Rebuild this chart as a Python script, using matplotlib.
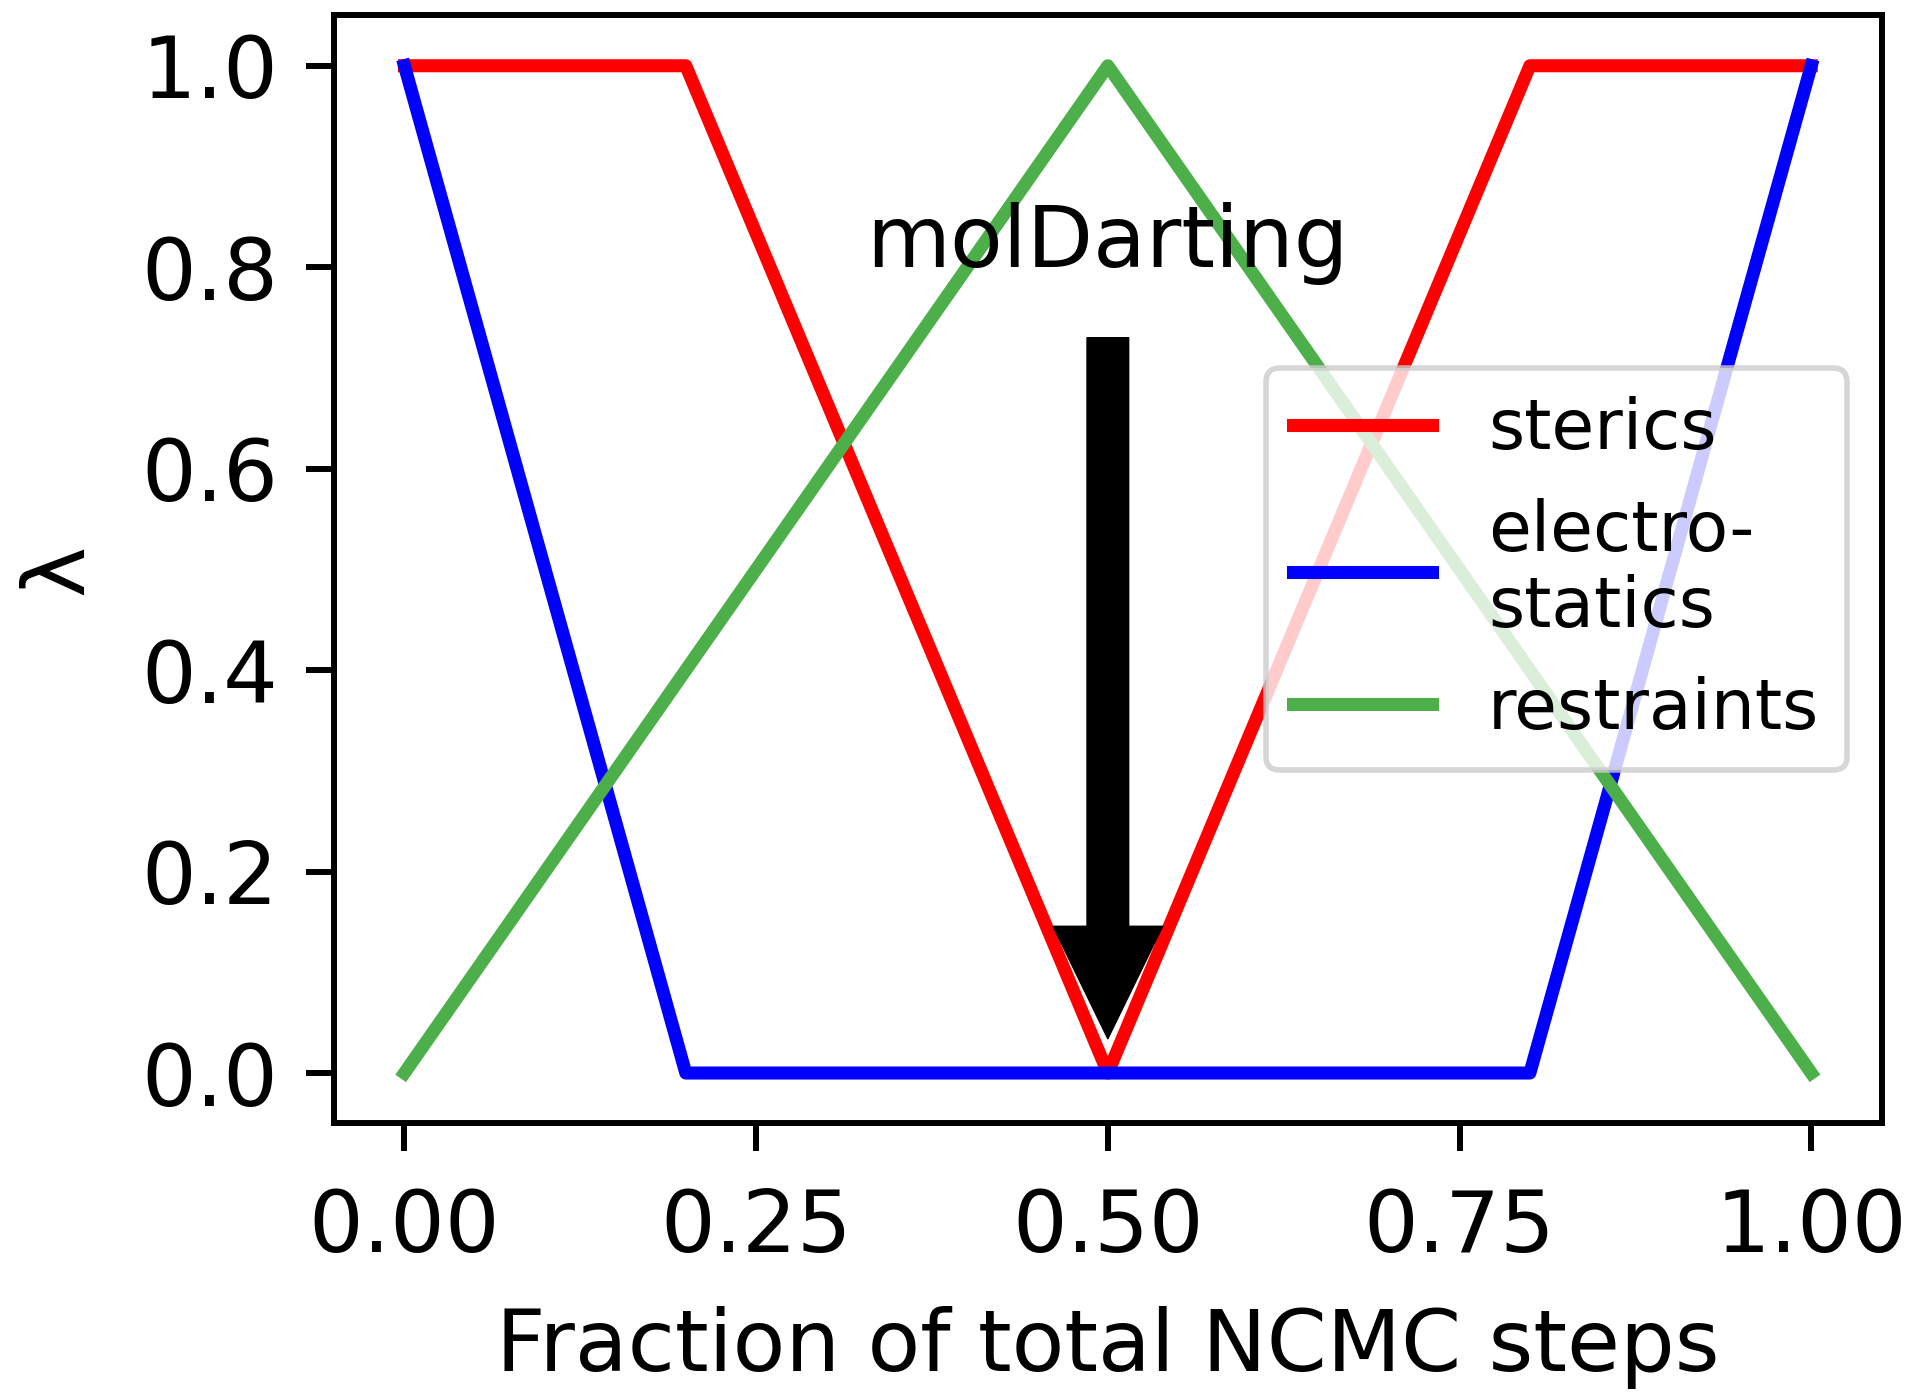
import matplotlib
matplotlib.use("Agg")
import matplotlib.pyplot as plt

# Data
sterics_x = [0.0, 0.2, 0.5, 0.8, 1.0]
sterics_y = [1.0, 1.0, 0.0, 1.0, 1.0]
electro_x = [0.0, 0.2, 0.8, 1.0]
electro_y = [1.0, 0.0, 0.0, 1.0]
restr_x = [0.0, 0.5, 1.0]
restr_y = [0.0, 1.0, 0.0]
labels = ["sterics", "electro-\nstatics", "restraints"]
colors = ["red", "blue", "#4daf4a"]
xticks = [0.0, 0.25, 0.5, 0.75, 1.0]
xticklabels = ["0.00", "0.25", "0.50", "0.75", "1.00"]
yticks = [0.0, 0.2, 0.4, 0.6, 0.8, 1.0]
yticklabels = ["0.0", "0.2", "0.4", "0.6", "0.8", "1.0"]
annot_text = "molDarting"
annot_text_pos = (0.5, 0.8)
arrow_start = (0.5, 0.73)
arrow_end = (0.5, 0.034)

FS = 62
LW = 9.4

fig = plt.figure(figsize=(19.2, 13.99), dpi=100)
ax = fig.add_axes([0.174, 0.197, 0.980 - 0.174, 0.989 - 0.197])

for xs, ys, lab, c in zip([sterics_x, electro_x, restr_x],
                          [sterics_y, electro_y, restr_y], labels, colors):
    ax.plot(xs, ys, color=c, lw=LW, label=lab)

ax.set_xlim(-0.05, 1.05)
ax.set_ylim(-0.05, 1.05)
ax.set_xticks(xticks)
ax.set_xticklabels(xticklabels)
ax.set_yticks(yticks)
ax.set_yticklabels(yticklabels)
ax.tick_params(labelsize=FS, length=20, width=4.3)
ax.tick_params(axis="x", pad=26)
ax.tick_params(axis="y", pad=20)
for s in ax.spines.values():
    s.set_linewidth(4.3)

ax.set_xlabel("Fraction of total NCMC steps", fontsize=FS, labelpad=26)
ax.set_ylabel("λ", fontsize=FS)
ax.yaxis.set_label_coords(-0.151, 0.5)

ax.text(annot_text_pos[0], annot_text_pos[1], annot_text, fontsize=FS,
        ha="center", va="baseline")
ax.annotate("", xy=arrow_end, xytext=arrow_start,
            arrowprops=dict(facecolor="black", edgecolor="black",
                            width=30, headwidth=79, headlength=81, shrink=0))

leg = ax.legend(loc="center right", fontsize=50, labelspacing=0.5,
                handlelength=2.0, borderaxespad=0.5)
leg.get_frame().set_linewidth(4)
for t in leg.get_texts():
    t.set_linespacing(1.17)

fig.savefig("out.png", dpi=100)
